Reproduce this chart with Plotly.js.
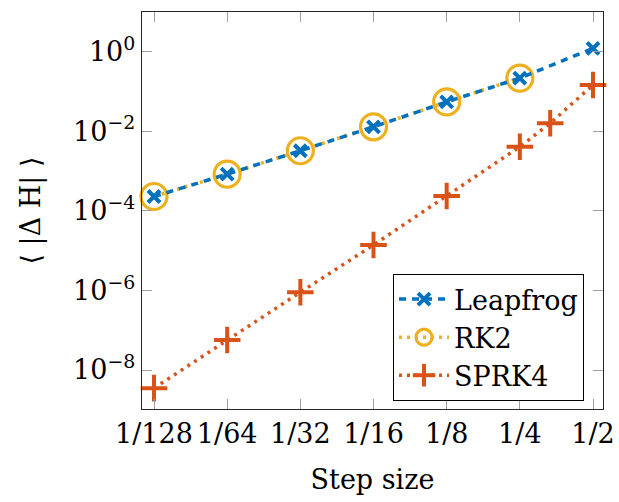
<!DOCTYPE html>
<html>
<head>
<meta charset="utf-8">
<script src="https://cdn.plot.ly/plotly-3.0.1.min.js"></script>
<style>html,body{margin:0;padding:0;background:#fff;}#chart{width:619px;height:502px;}</style>
</head>
<body>
<div id="chart"></div>
<script>
// Data
const stepSizes = [1/128, 1/64, 1/32, 1/16, 1/8, 1/4, 1/2];
const stepLabels = ['1/128', '1/64', '1/32', '1/16', '1/8', '1/4', '1/2'];
const leapfrogErr = [2.3e-4, 8.4e-4, 3.25e-3, 1.3e-2, 5.5e-2, 0.218, 1.22];
const rk2Steps = [1/128, 1/64, 1/32, 1/16, 1/8, 1/4];
const rk2Err = [2.3e-4, 8.4e-4, 3.25e-3, 1.3e-2, 5.5e-2, 0.218];
const sprk4Steps = [1/128, 1/64, 1/32, 1/16, 1/8, 1/4, 1/3, 1/2];
const sprk4Err = [3.5e-9, 5.7e-8, 9.0e-7, 1.39e-5, 2.36e-4, 4.1e-3, 1.6e-2, 0.146];
const yTickVals = [1e-8, 1e-6, 1e-4, 1e-2, 1];
const yTickText = ['10<sup>\u22128</sup>', '10<sup>\u22126</sup>', '10<sup>\u22124</sup>', '10<sup>\u22122</sup>', '10<sup>0</sup>'];

const FONT = 'DejaVu Serif';
const BLUE = '#0072BD', YELLOW = '#EDB120', ORANGE = '#D95319';

const traces = [
  {
    name: 'RK2', x: rk2Steps, y: rk2Err, type: 'scatter', mode: 'lines+markers',
    legendrank: 2, cliponaxis: false,
    line: {color: YELLOW, width: 3.5, dash: '3px,5px'},
    marker: {symbol: 'circle-open', size: 26, color: YELLOW, line: {width: 3.2, color: YELLOW}}
  },
  {
    name: 'Leapfrog', x: stepSizes, y: leapfrogErr, type: 'scatter', mode: 'lines+markers',
    legendrank: 1, cliponaxis: false,
    line: {color: BLUE, width: 3.5, dash: '7px,6px'},
    marker: {symbol: 'x-thin-open', size: 12, color: BLUE, line: {width: 4, color: BLUE}}
  },
  {
    name: 'SPRK4', x: sprk4Steps, y: sprk4Err, type: 'scatter', mode: 'lines+markers',
    legendrank: 3, cliponaxis: false,
    line: {color: ORANGE, width: 3.5, dash: '3px,5px'},
    marker: {symbol: 'cross-thin-open', size: 19, color: ORANGE, line: {width: 4, color: ORANGE}}
  }
];

const layout = {
  width: 619, height: 502,
  margin: {l: 142, r: 16, t: 12, b: 93},
  paper_bgcolor: '#fff', plot_bgcolor: '#fff',
  font: {family: FONT, size: 27, color: '#000'},
  showlegend: true,
  legend: {
    x: 0.5445, y: 0.34, xanchor: 'left', yanchor: 'top',
    bordercolor: '#000', borderwidth: 1, bgcolor: '#fff',
    font: {family: FONT, size: 27, color: '#000'},
    itemwidth: 50, tracegroupgap: 0
  },
  xaxis: {
    type: 'log', range: [-2.1566, -0.2599],
    tickvals: stepSizes, ticktext: stepLabels,
    ticks: 'inside', ticklen: 10, tickwidth: 1, tickcolor: '#a0a0a0',
    showline: true, linecolor: '#262626', linewidth: 1.3, mirror: 'allticks',
    showgrid: false, zeroline: false,
    tickfont: {family: FONT, size: 27, color: '#000'},
    title: {text: 'Step size', font: {family: FONT, size: 27, color: '#000'}, standoff: 22}
  },
  yaxis: {
    type: 'log', range: [-8.98, 1.0],
    tickvals: yTickVals, ticktext: yTickText,
    ticks: 'inside', ticklen: 10, tickwidth: 1, tickcolor: '#a0a0a0',
    showline: true, linecolor: '#262626', linewidth: 1.3, mirror: 'allticks',
    showgrid: false, zeroline: false,
    tickfont: {family: FONT, size: 27, color: '#000'},
    title: {text: '\u27E8 |\u0394 H| \u27E9', font: {family: FONT, size: 27, color: '#000'}, standoff: 24}
  }
};

Plotly.newPlot('chart', traces, layout, {displayModeBar: false, staticPlot: true});
</script>
</body>
</html>
